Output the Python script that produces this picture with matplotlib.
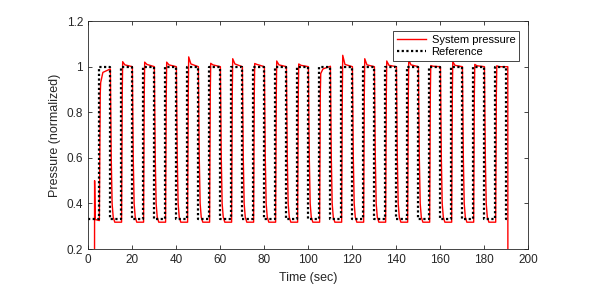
import numpy as np
import matplotlib
matplotlib.use('Agg')
import matplotlib.pyplot as plt

plt.rcParams['font.family'] = ['Liberation Sans', 'DejaVu Sans']

# reference square wave (switch times and levels)
ref_times = [0, 5, 10, 15, 20, 25, 30, 35, 40, 45, 50, 55, 60, 65, 70, 75, 80, 85,
             90, 95, 100, 105, 110, 115, 120, 125, 130, 135, 140, 145, 150, 155,
             160, 165, 170, 175, 180, 185, 190, 191.5]
ref_levels = [0.333, 1, 0.333, 1, 0.333, 1, 0.333, 1, 0.333, 1, 0.333, 1, 0.333,
              1, 0.333, 1, 0.333, 1, 0.333, 1, 0.333, 1, 0.333, 1, 0.333, 1,
              0.333, 1, 0.333, 1, 0.333, 1, 0.333, 1, 0.333, 1, 0.333, 1, 0.333,
              0.333]

# system pressure: per pulse values
rise_times = [5, 15, 25, 35, 45, 55, 65, 75, 85, 95, 105, 115, 125, 135, 145,
              155, 165, 175, 185]
peak_vals = [0.93, 1.022, 1.02, 1.02, 1.043, 1.015, 1.035, 1.014, 1.025, 1.012,
             0.97, 1.05, 1.035, 1.025, 1.03, 1.005, 1.022, 1.01, 1.004]
settle_vals = [0.975, 1.008, 1.01, 1.008, 1.012, 1.008, 1.012, 1.01, 1.008, 1.006,
               0.99, 1.01, 1.008, 1.006, 1.008, 1.002, 1.006, 1.004, 1.0]
end_vals = [0.99, 1.0, 1.0, 1.0, 1.0, 1.0, 1.0, 1.0, 1.0, 1.0,
            1.002, 1.0, 1.0, 1.0, 1.0, 1.0, 1.0, 1.0, 1.0]
low_val = 0.318

# start-up transient and end of run
start_t = [3.0, 3.05, 3.3, 5.2]
start_p = [0.1, 0.5, 0.33, 0.325]
stop_t = [190.8, 190.85]
stop_p = [1.0, 0.0]

sys_t = list(start_t)
sys_p = list(start_p)
for k, r in enumerate(rise_times):
    f = r + 5
    if k > 0:
        sys_t += [r + 0.3]
        sys_p += [low_val]
    sys_t += [r + 0.6, r + 0.8, r + 1.8, f + 0.2]
    sys_p += [0.88, peak_vals[k], settle_vals[k], end_vals[k]]
    if k < len(rise_times) - 1:
        sys_t += [f + 0.6, f + 1.0, f + 1.5, f + 2.2]
        sys_p += [0.6, 0.40, 0.34, low_val]
sys_t += stop_t
sys_p += stop_p

fig = plt.figure(figsize=(5.98, 2.85), dpi=100)
ax = fig.add_axes([0.147, 0.126, 0.736, 0.8])

ax.plot(sys_t, sys_p, color='#FF0000', lw=1.0, label='System pressure')
ax.step(ref_times, ref_levels, where='post', color='black', ls=(0, (1, 1.1)),
        lw=1.6, label='Reference')

ax.set_xlim(0, 200)
ax.set_ylim(0.2, 1.2)
ax.set_xticks(np.arange(0, 201, 20))
ax.set_yticks([0.2, 0.4, 0.6, 0.8, 1.0, 1.2])
ax.set_yticklabels(['0.2', '0.4', '0.6', '0.8', '1', '1.2'])
ax.tick_params(direction='in', top=True, right=True, labelsize=8.5,
               colors='#262626', length=3, width=0.6)
for s in ax.spines.values():
    s.set_color('#262626')
    s.set_linewidth(0.6)
ax.set_xlabel('Time (sec)', fontsize=9, color='#262626')
ax.set_ylabel('Pressure (normalized)', fontsize=9, color='#262626')

leg = ax.legend(loc='upper right', bbox_to_anchor=(0.98, 0.956), fontsize=8,
                fancybox=False, framealpha=1, edgecolor='#262626',
                borderpad=0.35, handlelength=2.6, handletextpad=0.5,
                labelspacing=0.15, borderaxespad=0)
leg.get_frame().set_linewidth(0.6)

fig.savefig('out.png', dpi=100)
